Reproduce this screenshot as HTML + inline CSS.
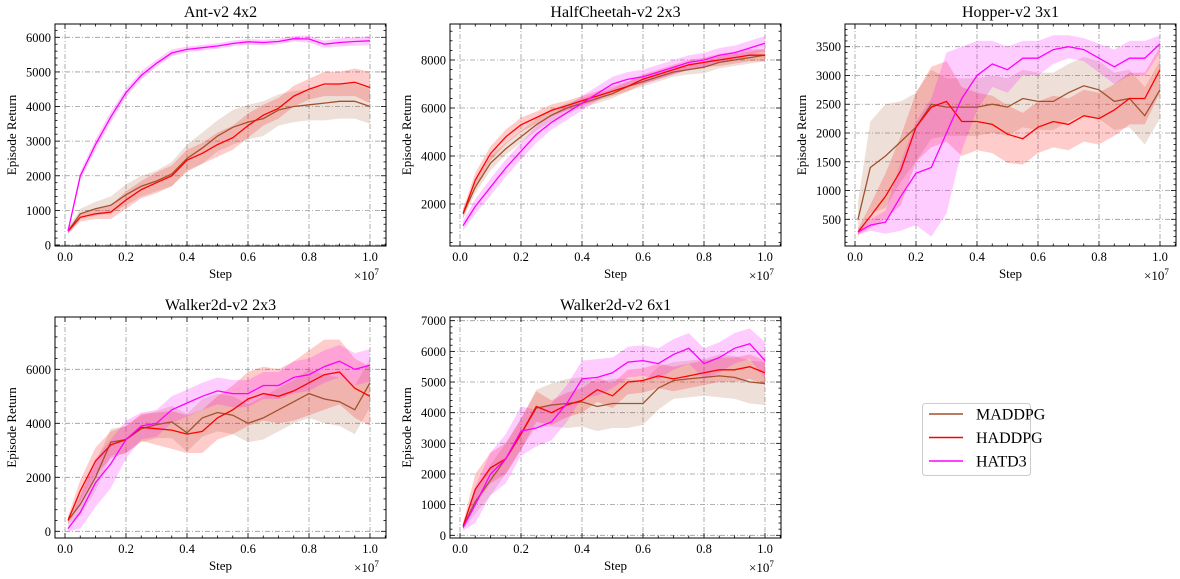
<!DOCTYPE html>
<html><head><meta charset="utf-8"><style>
html,body{margin:0;padding:0;background:#fff;}
svg{display:block;font-family:"Liberation Serif",serif;}
</style></head><body>
<svg id="fig" width="1180" height="579" viewBox="0 0 1180 579" xmlns="http://www.w3.org/2000/svg"></svg>
<script>
const xs = [0.01,0.05,0.1,0.15,0.2,0.25,0.3,0.35,0.4,0.45,0.5,0.55,0.6,0.65,0.7,0.75,0.8,0.85,0.9,0.95,1.0];
const seriesNames = ["MADDPG","HADDPG","HATD3"];
const colors = ["#a0522d","#ff0000","#ff00ff"];
// Ant-v2 4x2
const antMaddpg = [400,900,1050,1150,1450,1700,1850,2050,2500,2800,3150,3400,3550,3650,3900,4000,4050,4100,4150,4150,4000];
const antMaddpgBand = [80,150,200,250,300,300,300,350,400,450,450,500,500,500,450,450,450,500,500,500,500];
const antHaddpg = [400,800,900,950,1300,1600,1800,2000,2450,2650,2900,3100,3450,3750,3950,4300,4500,4650,4650,4700,4550];
const antHaddpgBand = [80,120,150,200,250,250,300,300,300,300,350,350,350,300,300,300,300,350,350,400,450];
const antHatd3 = [400,2000,2900,3700,4400,4900,5250,5550,5650,5700,5750,5820,5870,5850,5880,5960,5950,5800,5850,5880,5900];
const antHatd3Band = [50,120,150,150,120,120,100,100,80,80,80,80,80,80,80,80,100,100,120,120,130];
// HalfCheetah-v2 2x3
const hcMaddpg = [1600,2700,3700,4300,4800,5300,5700,6000,6200,6400,6600,6900,7100,7300,7500,7600,7700,7900,8000,8100,8200];
const hcMaddpgBand = [200,250,300,250,250,250,250,200,200,200,200,200,200,200,200,200,250,250,250,250,250];
const hcHaddpg = [1600,3000,4100,4800,5300,5600,5900,6100,6300,6500,6700,6900,7200,7400,7600,7800,7900,8000,8100,8200,8200];
const hcHaddpgBand = [200,300,300,300,300,250,250,200,200,200,200,200,200,200,200,200,200,250,250,250,250];
const hcHatd3 = [1100,1900,2700,3500,4200,4900,5400,5800,6200,6600,7000,7200,7300,7500,7700,7900,8000,8200,8300,8500,8700];
const hcHatd3Band = [200,300,350,350,350,350,300,300,300,300,300,300,300,300,300,300,300,300,300,300,300];
// Hopper-v2 3x1
const hopMaddpg = [500,1400,1600,1850,2100,2500,2450,2450,2450,2500,2450,2600,2550,2550,2700,2820,2750,2550,2600,2300,2750];
const hopMaddpgBand = [300,800,900,700,600,600,500,500,500,500,500,500,500,500,500,500,500,500,500,500,500];
const hopHaddpg = [280,550,900,1350,2100,2450,2550,2200,2200,2150,1980,1900,2100,2200,2150,2300,2250,2400,2600,2600,3100];
const hopHaddpgBand = [50,200,400,600,600,700,700,600,500,500,500,450,450,450,450,450,450,450,450,450,400];
const hopHatd3 = [280,400,450,900,1300,1400,2000,2600,3000,3200,3100,3300,3300,3450,3500,3450,3300,3150,3300,3300,3550];
const hopHatd3Band = [50,100,200,600,900,1200,1400,900,600,400,400,300,300,250,200,200,250,300,300,300,150];
// Walker2d-v2 2x3
const w23Maddpg = [400,1000,2000,3300,3400,3800,3950,4050,3650,4200,4400,4300,4000,4200,4500,4800,5100,4900,4800,4500,5500];
const w23MaddpgBand = [150,400,500,500,500,500,500,600,700,700,700,700,700,800,800,800,900,900,900,900,900];
const w23Haddpg = [400,1500,2600,3200,3400,3850,3800,3750,3600,3700,4200,4500,4900,5100,5000,5200,5500,5800,5900,5300,5000];
const w23HaddpgBand = [150,400,500,500,500,500,600,700,700,800,800,900,1000,1000,1000,1100,1200,1300,1200,1100,1100];
const w23Hatd3 = [100,700,1800,2500,3400,3900,4000,4500,4750,5000,5200,5100,5100,5400,5400,5700,5800,6100,6300,6000,6150];
const w23Hatd3Band = [100,600,900,900,700,500,500,500,500,500,500,500,500,500,500,600,600,600,600,600,600];
// Walker2d-v2 6x1
const w61Maddpg = [300,1100,1800,2500,3300,4150,4250,4300,4350,4200,4300,4300,4300,4800,5050,5100,5150,5200,5150,5000,4950];
const w61MaddpgBand = [100,400,500,500,500,600,700,800,800,800,800,800,700,700,600,600,600,700,700,700,700];
const w61Haddpg = [300,1500,2200,2500,3300,4200,4000,4250,4400,4750,4550,5000,5050,5200,5100,5200,5300,5400,5400,5500,5300];
const w61HaddpgBand = [100,500,500,500,500,500,400,400,400,400,400,400,400,400,400,400,400,400,400,400,400];
const w61Hatd3 = [250,1000,2000,2500,3400,3500,3700,4300,5100,5150,5300,5650,5700,5600,5900,6100,5600,5800,6100,6250,5700];
const w61Hatd3Band = [100,600,700,800,800,600,600,600,600,600,500,500,500,500,500,500,500,500,500,500,600];
// tick labels
const xTicks = [0,0.2,0.4,0.6,0.8,1.0];
const xTickLabels = ["0.0","0.2","0.4","0.6","0.8","1.0"];
const antYTicks = [0,1000,2000,3000,4000,5000,6000];
const hcYTicks = [2000,4000,6000,8000];
const hopYTicks = [500,1000,1500,2000,2500,3000,3500];
const w23YTicks = [0,2000,4000,6000];
const w61YTicks = [0,1000,2000,3000,4000,5000,6000,7000];

const NS="http://www.w3.org/2000/svg";
const fig=document.getElementById('fig');
function mk(tag,attrs,parent){const e=document.createElementNS(NS,tag);for(const k in attrs)e.setAttribute(k,attrs[k]);(parent||fig).appendChild(e);return e;}

const panels=[
 {name:"ant",title:"Ant-v2 4x2",L:55,R:386,T:24,B:246,x0px:65,x1px:370,ya:0,yapx:245,yb:6000,ybpx:37.3,ticks:antYTicks,minor:200,
  data:[[antMaddpg,antMaddpgBand],[antHaddpg,antHaddpgBand],[antHatd3,antHatd3Band]],ylabX:12},
 {name:"halfcheetah",title:"HalfCheetah-v2 2x3",L:450,R:781,T:24,B:246,x0px:460,x1px:765,ya:2000,yapx:204,yb:8000,ybpx:60,ticks:hcYTicks,minor:400,
  data:[[hcMaddpg,hcMaddpgBand],[hcHaddpg,hcHaddpgBand],[hcHatd3,hcHatd3Band]],ylabX:407},
 {name:"hopper",title:"Hopper-v2 3x1",L:845,R:1176,T:24,B:246,x0px:855,x1px:1160,ya:500,yapx:219.3,yb:3500,ybpx:46.7,ticks:hopYTicks,minor:100,
  data:[[hopMaddpg,hopMaddpgBand],[hopHaddpg,hopHaddpgBand],[hopHatd3,hopHatd3Band]],ylabX:802},
 {name:"walker-2x3",title:"Walker2d-v2 2x3",L:55,R:386,T:317,B:538,x0px:65,x1px:370,ya:0,yapx:531.3,yb:6000,ybpx:369.3,ticks:w23YTicks,minor:400,
  data:[[w23Maddpg,w23MaddpgBand],[w23Haddpg,w23HaddpgBand],[w23Hatd3,w23Hatd3Band]],ylabX:12},
 {name:"walker-6x1",title:"Walker2d-v2 6x1",L:450,R:781,T:317,B:538,x0px:460,x1px:765,ya:0,yapx:535.3,yb:7000,ybpx:320.7,ticks:w61YTicks,minor:200,
  data:[[w61Maddpg,w61MaddpgBand],[w61Haddpg,w61HaddpgBand],[w61Hatd3,w61Hatd3Band]],ylabX:407}
];

panels.forEach((p,pi)=>{
  const g=mk('g',{});
  
  
  const sx=v=>p.x0px+(p.x1px-p.x0px)*v;
  const sy=v=>p.yapx+(p.ybpx-p.yapx)*(v-p.ya)/(p.yb-p.ya);
  const yMin=p.ya+(p.B-p.yapx)/(p.ybpx-p.yapx)*(p.yb-p.ya);
  const yMax=p.ya+(p.T-p.yapx)/(p.ybpx-p.yapx)*(p.yb-p.ya);
  const cid='clip'+pi;
  const cp=mk('clipPath',{id:cid},g);mk('rect',{x:p.L,y:p.T,width:p.R-p.L,height:p.B-p.T},cp);
  // grid
  xTicks.forEach(t=>{const l=mk('line',{x1:sx(t),x2:sx(t),y1:p.T,y2:p.B,stroke:'#9a9a9a','stroke-width':0.8,'stroke-dasharray':'5,2,1,2'},g);
    });
  p.ticks.forEach(t=>{const l=mk('line',{x1:p.L,x2:p.R,y1:sy(t),y2:sy(t),stroke:'#9a9a9a','stroke-width':0.8,'stroke-dasharray':'5,2,1,2'},g);
    });
  // series
  const sg=mk('g',{'clip-path':'url(#'+cid+')'},g);
  p.data.forEach((d,si)=>{
    const [m,b]=d;
    let up=xs.map((x,i)=>sx(x).toFixed(1)+','+sy(m[i]+b[i]).toFixed(1));
    let lo=xs.map((x,i)=>sx(x).toFixed(1)+','+sy(m[i]-b[i]).toFixed(1)).reverse();
    const band=mk('polygon',{points:up.concat(lo).join(' '),fill:colors[si],'fill-opacity':si===0?0.18:0.2,stroke:'none'},sg);
    
    
  });
  p.data.forEach((d,si)=>{
    const m=d[0];
    const line=mk('polyline',{points:xs.map((x,i)=>sx(x).toFixed(1)+','+sy(m[i]).toFixed(1)).join(' '),fill:'none',stroke:colors[si],'stroke-width':1.3},sg);
    
    
  });
  // frame
  const fr=mk('rect',{x:p.L,y:p.T,width:p.R-p.L,height:p.B-p.T,fill:'none',stroke:'#000','stroke-width':1},g);
  
  // x ticks
  for(let v=-0.0;v<=1.05+1e-9;v+=0.05){const X=sx(v);if(X<p.L||X>p.R)continue;const major=Math.abs(v*5-Math.round(v*5))<1e-6;const len=major?5:2.5;
    mk('line',{x1:X,x2:X,y1:p.B,y2:p.B-len,stroke:'#000','stroke-width':0.8},g);mk('line',{x1:X,x2:X,y1:p.T,y2:p.T+len,stroke:'#000','stroke-width':0.8},g);}
  xTicks.forEach((t,i)=>{const tx=mk('text',{x:sx(t),y:p.B+15,'text-anchor':'middle','font-size':12.5,fill:'#000'},g);tx.textContent=xTickLabels[i];
    });
  // y ticks
  const startMinor=Math.ceil(yMin/p.minor)*p.minor;
  for(let v=startMinor;v<=yMax;v+=p.minor){const Y=sy(v);const major=p.ticks.indexOf(v)>=0;const len=major?5:2.5;
    mk('line',{x1:p.L,x2:p.L+len,y1:Y,y2:Y,stroke:'#000','stroke-width':0.8},g);mk('line',{x1:p.R,x2:p.R-len,y1:Y,y2:Y,stroke:'#000','stroke-width':0.8},g);}
  p.ticks.forEach(t=>{const tx=mk('text',{x:p.L-4,y:sy(t)+4.5,'text-anchor':'end','font-size':12.5,fill:'#000'},g);tx.textContent=String(t);
    });
  // titles & labels
  const tt=mk('text',{x:(p.L+p.R)/2,y:p.T-7,'text-anchor':'middle','font-size':16,fill:'#000'},g);tt.textContent=p.title;
  
  const xl=mk('text',{x:(p.L+p.R)/2,y:p.B+32,'text-anchor':'middle','font-size':13,fill:'#000'},g);xl.textContent='Step';
  
  const ex=mk('text',{x:p.x1px-16,y:p.B+34,'font-size':13,fill:'#000'},g);ex.textContent='×10';
  const sup=mk('tspan',{dy:-5,'font-size':9},ex);sup.textContent='7';
  
  const yl=mk('text',{x:0,y:0,'text-anchor':'middle','font-size':13,fill:'#000',transform:'translate('+(p.ylabX+4)+','+((p.T+p.B)/2)+') rotate(-90)'},g);yl.textContent='Episode Return';
  
});

// legend
const lg=mk('g',{});


mk('rect',{x:922.5,y:403.5,width:108,height:72,rx:3,fill:'#fff',stroke:'#cccccc','stroke-width':1},lg);
seriesNames.forEach((n,i)=>{
  const y=414+i*23.5;
  const ln=mk('line',{x1:929,x2:963,y1:y,y2:y,stroke:colors[i],'stroke-width':1.4},lg);
  
  
  const t=mk('text',{x:976,y:y+5.5,'font-size':16,fill:'#000'},lg);t.textContent=n;
  
  
});
</script>
</body></html>
